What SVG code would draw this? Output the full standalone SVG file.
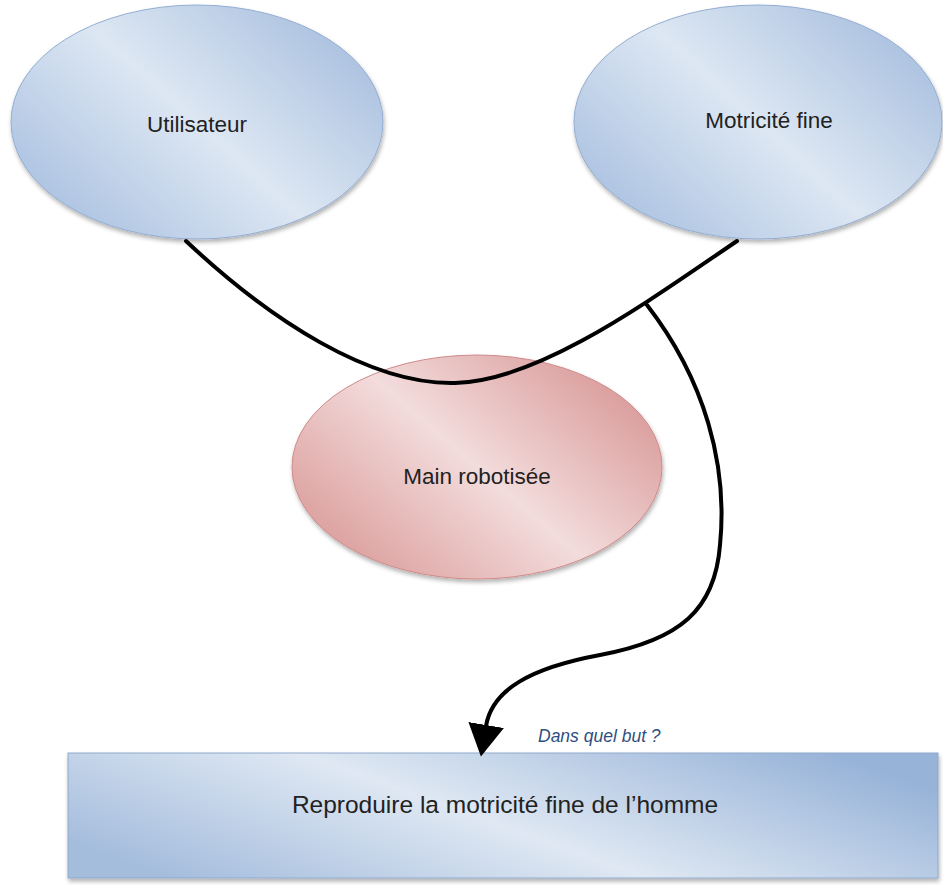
<svg xmlns="http://www.w3.org/2000/svg" width="943" height="885" viewBox="0 0 943 885">
<defs>
<linearGradient id="gBlue" x1="0" y1="0.85" x2="1" y2="0.15">
<stop offset="0" stop-color="#a6bedf"/>
<stop offset="0.5" stop-color="#dde7f3"/>
<stop offset="1" stop-color="#a4bcdd"/>
</linearGradient>
<linearGradient id="gPink" x1="0" y1="0.85" x2="1" y2="0.15">
<stop offset="0" stop-color="#d89795"/>
<stop offset="0.5" stop-color="#f3dcdc"/>
<stop offset="1" stop-color="#d69392"/>
</linearGradient>
<linearGradient id="gRect" x1="0" y1="0.7" x2="1" y2="0.3">
<stop offset="0" stop-color="#a5bddd"/>
<stop offset="0.47" stop-color="#dfe8f3"/>
<stop offset="1" stop-color="#97b3d8"/>
</linearGradient>
<filter id="shadow" x="-10%" y="-10%" width="120%" height="125%">
<feDropShadow dx="1" dy="3" stdDeviation="2" flood-color="#000" flood-opacity="0.3"/>
</filter>
<marker id="arrow" markerUnits="userSpaceOnUse" markerWidth="36" markerHeight="38" refX="1" refY="18" orient="auto">
<path d="M0,0 L32,18 L0,36 z" fill="#000"/>
</marker>
<style>
.node-blue{fill:url(#gBlue);stroke:#93add2;stroke-width:1;filter:url(#shadow);}
.node-pink{fill:url(#gPink);stroke:#d08a89;stroke-width:1;filter:url(#shadow);}
.node-rect{fill:url(#gRect);stroke:#8fa9cc;stroke-width:1;filter:url(#shadow);}
.label{font-family:"Liberation Sans",Arial,sans-serif;fill:#222;text-anchor:middle;}
.conn{fill:none;stroke:#000;stroke-width:4;stroke-linecap:round;stroke-linejoin:round;}
.edge-label{font-family:"Liberation Sans",Arial,sans-serif;font-style:italic;fill:#2f4f80;font-size:17.5px;}
</style>
</defs>
<rect width="943" height="885" fill="#fff"/>
<g id="node-utilisateur">
<ellipse class="node-blue" cx="197" cy="122" rx="186" ry="117"/>
<text class="label" x="197" y="132" font-size="22.5">Utilisateur</text>
</g>
<g id="node-motricite">
<ellipse class="node-blue" cx="758" cy="122" rx="184" ry="117"/>
<text class="label" x="769" y="128" font-size="22.5">Motricité fine</text>
</g>
<g id="node-main">
<ellipse class="node-pink" cx="477" cy="467" rx="185" ry="112"/>
<text class="label" x="477" y="484" font-size="22.5">Main robotisée</text>
</g>
<g id="node-reproduire">
<rect class="node-rect" x="68" y="753" width="870" height="125"/>
<text class="label" x="505" y="813" font-size="24.5">Reproduire la motricité fine de l’homme</text>
</g>
<g id="connectors">
<path class="conn" d="M186,241 C270,320 370,385 455,383 C540,381 650,300 737,241"/>
<path class="conn" d="M647,305 C705,380 728,465 720,545 C715,610 680,640 600,655 C530,668 492,690 486,726" marker-end="url(#arrow)"/>
<text class="edge-label" x="538" y="742">Dans quel but ?</text>
</g>
</svg>
